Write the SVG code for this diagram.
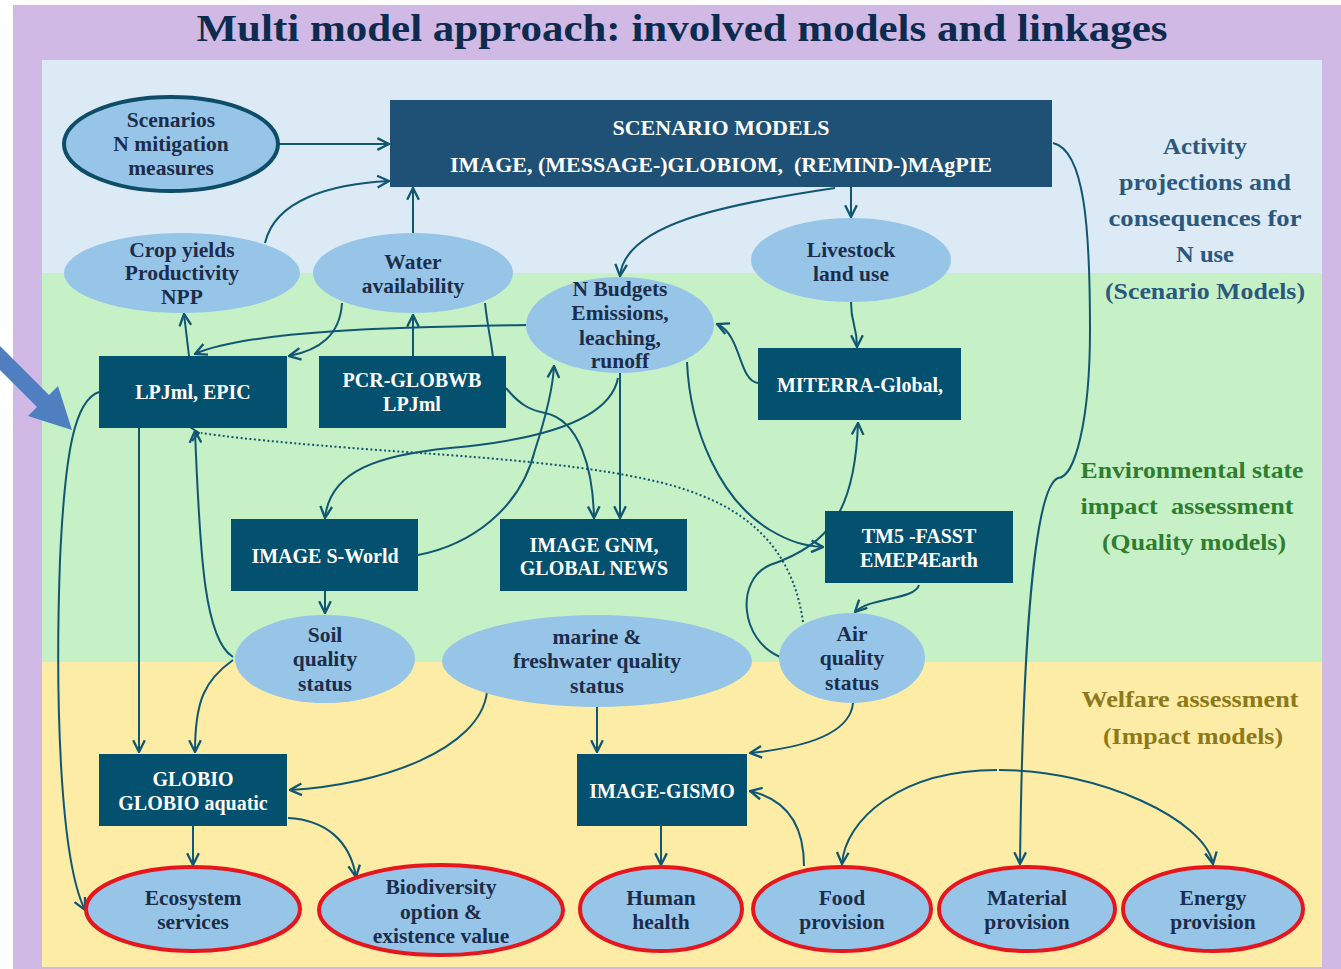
<svg xmlns="http://www.w3.org/2000/svg" width="1341" height="969" viewBox="0 0 1341 969">
<style>
.t{font-family:'Liberation Serif','DejaVu Serif',serif;font-weight:bold;text-anchor:middle}
.nt{font-size:21.5px;fill:#1b2d4b}
.bt{font-size:20px;fill:#ffffff}
.box{fill:#03506f}
.ell{fill:#97c5e8}
.red{fill:#97c5e8;stroke:#e5161d;stroke-width:4}
.c{fill:none;stroke:#115772;stroke-width:2;marker-end:url(#ah)}
.lab{font-size:23px}
</style>
<defs>
<marker id="ah" viewBox="0 0 12 12" refX="11" refY="6" markerWidth="14" markerHeight="14" markerUnits="userSpaceOnUse" orient="auto">
<path d="M1,1 L11,6 L1,11" fill="none" stroke="#115772" stroke-width="2"/>
</marker>
</defs>
<rect x="0" y="0" width="1341" height="969" fill="#ffffff"/>
<rect x="13" y="5" width="1328" height="964" fill="#d0b9e4"/>
<rect x="42" y="60" width="1280" height="213" fill="#dbeaf5"/>
<rect x="42" y="273" width="1280" height="389" fill="#c6f0c6"/>
<rect x="42" y="662" width="1280" height="305" fill="#fdeca6"/>
<text class="t" x="682" y="41" font-size="38" fill="#0d2b4e" textLength="971" lengthAdjust="spacingAndGlyphs">Multi model approach: involved models and linkages</text>

<g id="side-labels" class="t lab">
<text x="1205" y="154" fill="#2b587c" textLength="84" lengthAdjust="spacingAndGlyphs">Activity</text>
<text x="1205" y="190" fill="#2b587c" textLength="172" lengthAdjust="spacingAndGlyphs">projections and</text>
<text x="1205" y="226" fill="#2b587c" textLength="193" lengthAdjust="spacingAndGlyphs">consequences for</text>
<text x="1205" y="262" fill="#2b587c" textLength="58" lengthAdjust="spacingAndGlyphs">N use</text>
<text x="1205" y="299" fill="#2b587c" textLength="200" lengthAdjust="spacingAndGlyphs">(Scenario Models)</text>
<text x="1192" y="478" fill="#2f7d2f" textLength="223" lengthAdjust="spacingAndGlyphs">Environmental state</text>
<text x="1187" y="514" fill="#2f7d2f" textLength="213" lengthAdjust="spacingAndGlyphs" xml:space="preserve">impact  assessment</text>
<text x="1194" y="550" fill="#2f7d2f" textLength="184" lengthAdjust="spacingAndGlyphs">(Quality models)</text>
<text x="1190" y="707" fill="#8c7a1a" textLength="217" lengthAdjust="spacingAndGlyphs">Welfare assessment</text>
<text x="1193" y="744" fill="#8c7a1a" textLength="180" lengthAdjust="spacingAndGlyphs">(Impact models)</text>
</g>

<g id="connectors">
<path class="c" d="M279,144 L389,144"/>
<path class="c" d="M265,243 C275,200 330,184 389,181"/>
<path class="c" d="M413,233 L413,188"/>
<path class="c" d="M851,187 L851,217"/>
<path class="c" d="M835,188 C720,205 625,225 620,276"/>
<path class="c" d="M851,302 C851,325 857,325 857,347"/>
<path class="c" d="M758,383 C738,380 742,335 717,324"/>
<path class="c" d="M527,325 C400,327 250,330 195,354"/>
<path class="c" d="M189,356 L184,314"/>
<path class="c" d="M342,303 C340,335 320,350 289,356"/>
<path class="c" d="M413,356 L413,315"/>
<path fill="none" stroke="#115772" stroke-width="2" d="M485,303 C488,330 492,345 493,358"/>
<path class="c" d="M506,388 C520,405 530,410 545,413 C580,420 593,470 594,518"/>
<path class="c" d="M620,373 L620,518"/>
<path class="c" d="M618,378 C610,420 540,440 450,448 C380,455 330,470 325,518"/>
<path class="c" d="M418,555 C470,545 520,510 535,450 C548,410 553,385 554,366"/>
<path class="c" d="M325,591 L325,613"/>
<path class="c" d="M233,657 C205,640 200,560 195,431"/>
<path class="c" d="M233,660 C205,680 195,700 195,752"/>
<path class="c" d="M139,428 L139,752"/>
<path class="c" d="M99,392 C75,400 65,450 60,560 C55,700 60,860 85,910"/>
<path fill="none" stroke="#115772" stroke-width="2" stroke-dasharray="2,2.5" d="M803,622 C795,565 765,520 700,495 C640,470 520,460 420,453 C320,446 250,440 201,433"/>
<path fill="none" stroke="#115772" stroke-width="2" d="M190,427 L199,433 L192,441"/>
<path class="c" d="M687,362 C690,430 720,500 770,530 C790,542 805,546 823,547"/>
<path class="c" d="M780,657 C740,640 735,580 770,565 C830,545 855,510 858,423"/>
<path class="c" d="M919,585 C915,600 870,597 855,612"/>
<path class="c" d="M487,692 C480,750 380,785 290,790"/>
<path class="c" d="M597,707 L597,752"/>
<path class="c" d="M853,703 C850,735 800,748 750,753"/>
<path class="c" d="M804,866 C804,830 790,800 750,791"/>
<path class="c" d="M661,826 L661,865"/>
<path class="c" d="M193,826 L193,865"/>
<path class="c" d="M288,818 C325,820 350,840 356,877"/>
<path class="c" d="M1053,143 C1085,150 1090,230 1090,330 C1090,420 1075,478 1058,478 C1030,490 1022,700 1020,864"/>
<path class="c" d="M997,770 C900,770 845,820 842,864"/>
<path class="c" d="M999,770 C1100,770 1205,820 1213,864"/>
</g>

<polygon points="-4,342 49,395 58,386 72,430 28,416 37,407 -16,354" fill="#4f7fc0"/>

<g id="scenarios" class="t nt">
<ellipse cx="171" cy="144" rx="107" ry="47" fill="#97c5e8" stroke="#0d4d68" stroke-width="4"/>
<text x="171" y="127">Scenarios</text>
<text x="171" y="151">N mitigation</text>
<text x="171" y="175">measures</text>
</g>
<g id="scenario-models" class="t bt">
<rect x="390" y="100" width="662" height="87" fill="#1e5175"/>
<text x="721" y="135" font-size="22">SCENARIO MODELS</text>
<text x="721" y="172" font-size="22" xml:space="preserve">IMAGE, (MESSAGE-)GLOBIOM,  (REMIND-)MAgPIE</text>
</g>
<g id="crop-yields" class="t nt">
<ellipse class="ell" cx="182" cy="273" rx="118" ry="40"/>
<text x="182" y="257">Crop yields</text>
<text x="182" y="280">Productivity</text>
<text x="182" y="304">NPP</text>
</g>
<g id="water" class="t nt">
<ellipse class="ell" cx="413" cy="273" rx="100" ry="40"/>
<text x="413" y="269">Water</text>
<text x="413" y="293">availability</text>
</g>
<g id="livestock" class="t nt">
<ellipse class="ell" cx="851" cy="260" rx="100" ry="42"/>
<text x="851" y="257">Livestock</text>
<text x="851" y="281">land use</text>
</g>
<g id="n-budgets" class="t nt">
<ellipse class="ell" cx="620" cy="325" rx="94" ry="48"/>
<text x="620" y="296">N Budgets</text>
<text x="620" y="320">Emissions,</text>
<text x="620" y="345">leaching,</text>
<text x="620" y="368">runoff</text>
</g>
<g id="lpjml-epic" class="t bt">
<rect class="box" x="99" y="356" width="188" height="72"/>
<text x="193" y="399">LPJml, EPIC</text>
</g>
<g id="pcr-globwb" class="t bt">
<rect class="box" x="319" y="356" width="187" height="72"/>
<text x="412" y="387">PCR-GLOBWB</text>
<text x="412" y="411">LPJml</text>
</g>
<g id="miterra" class="t bt">
<rect class="box" x="758" y="348" width="203" height="72"/>
<text x="860" y="392">MITERRA-Global,</text>
</g>
<g id="s-world" class="t bt">
<rect class="box" x="231" y="519" width="187" height="72"/>
<text x="325" y="563">IMAGE S-World</text>
</g>
<g id="gnm" class="t bt">
<rect class="box" x="500" y="519" width="187" height="72"/>
<text x="594" y="552">IMAGE GNM,</text>
<text x="594" y="575">GLOBAL NEWS</text>
</g>
<g id="tm5" class="t bt">
<rect class="box" x="825" y="511" width="188" height="72"/>
<text x="919" y="543">TM5 -FASST</text>
<text x="919" y="567">EMEP4Earth</text>
</g>
<g id="soil" class="t nt">
<ellipse class="ell" cx="325" cy="659" rx="90" ry="44"/>
<text x="325" y="642">Soil</text>
<text x="325" y="666">quality</text>
<text x="325" y="691">status</text>
</g>
<g id="marine" class="t nt">
<ellipse class="ell" cx="597" cy="661" rx="155" ry="46"/>
<text x="597" y="644">marine &amp;</text>
<text x="597" y="668">freshwater quality</text>
<text x="597" y="693">status</text>
</g>
<g id="air" class="t nt">
<ellipse class="ell" cx="852" cy="658" rx="73" ry="45"/>
<text x="852" y="641">Air</text>
<text x="852" y="665">quality</text>
<text x="852" y="690">status</text>
</g>
<g id="globio" class="t bt">
<rect class="box" x="99" y="754" width="188" height="72"/>
<text x="193" y="786">GLOBIO</text>
<text x="193" y="810">GLOBIO aquatic</text>
</g>
<g id="gismo" class="t bt">
<rect class="box" x="577" y="754" width="170" height="72"/>
<text x="662" y="798">IMAGE-GISMO</text>
</g>
<g id="ecosystem" class="t nt">
<ellipse class="red" cx="193" cy="909" rx="107" ry="42"/>
<text x="193" y="905">Ecosystem</text>
<text x="193" y="929">services</text>
</g>
<g id="biodiversity" class="t nt">
<ellipse class="red" cx="441" cy="910" rx="122" ry="45"/>
<text x="441" y="894">Biodiversity</text>
<text x="441" y="919">option &amp;</text>
<text x="441" y="943">existence value</text>
</g>
<g id="human-health" class="t nt">
<ellipse class="red" cx="661" cy="909" rx="81" ry="42"/>
<text x="661" y="905">Human</text>
<text x="661" y="929">health</text>
</g>
<g id="food" class="t nt">
<ellipse class="red" cx="842" cy="909" rx="89" ry="42"/>
<text x="842" y="905">Food</text>
<text x="842" y="929">provision</text>
</g>
<g id="material" class="t nt">
<ellipse class="red" cx="1027" cy="909" rx="88" ry="42"/>
<text x="1027" y="905">Material</text>
<text x="1027" y="929">provision</text>
</g>
<g id="energy" class="t nt">
<ellipse class="red" cx="1213" cy="909" rx="90" ry="42"/>
<text x="1213" y="905">Energy</text>
<text x="1213" y="929">provision</text>
</g>
</svg>
